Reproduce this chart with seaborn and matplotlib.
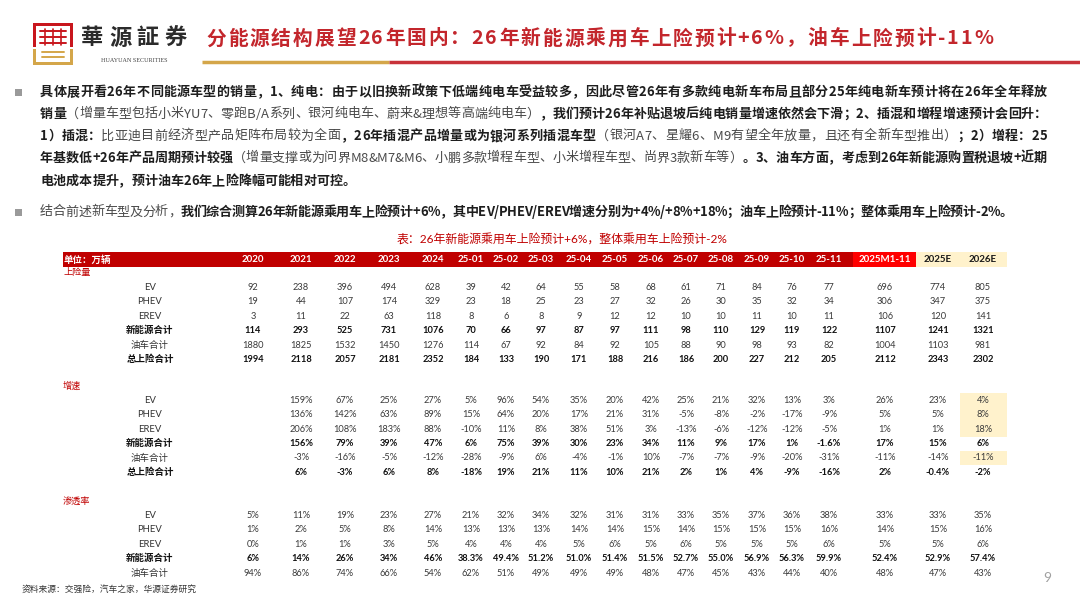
import matplotlib
matplotlib.use("Agg")
import matplotlib.pyplot as plt
import seaborn as sns
from matplotlib.patches import Rectangle
from matplotlib.font_manager import findfont, FontProperties
from matplotlib.ft2font import FT2Font

sns.set_theme(style="white")
CJK = ["Noto Sans CJK SC", "DejaVu Sans"]
NUM = ["Lato", "Noto Sans CJK SC", "DejaVu Sans"]
plt.rcParams["font.family"] = CJK

# ---------------- data ----------------
columns = ["2020", "2021", "2022", "2023", "2024", "25-01", "25-02", "25-03", "25-04",
           "25-05", "25-06", "25-07", "25-08", "25-09", "25-10", "25-11",
           "2025M1-11", "2025E", "2026E"]
row_labels = ["EV", "PHEV", "EREV", "新能源合计", "油车合计", "总上险合计"]
bold_rows = ["新能源合计", "总上险合计"]

# 上险量 (万辆)
ev_vol = [92, 238, 396, 494, 628, 39, 42, 64, 55, 58, 68, 61, 71, 84, 76, 77, 696, 774, 805]
phev_vol = [19, 44, 107, 174, 329, 23, 18, 25, 23, 27, 32, 26, 30, 35, 32, 34, 306, 347, 375]
erev_vol = [3, 11, 22, 63, 118, 8, 6, 8, 9, 12, 12, 10, 10, 11, 10, 11, 106, 120, 141]
nev_vol = [114, 293, 525, 731, 1076, 70, 66, 97, 87, 97, 111, 98, 110, 129, 119, 122, 1107, 1241, 1321]
ice_vol = [1880, 1825, 1532, 1450, 1276, 114, 67, 92, 84, 92, 105, 88, 90, 98, 93, 82, 1004, 1103, 981]
total_vol = [1994, 2118, 2057, 2181, 2352, 184, 133, 190, 171, 188, 216, 186, 200, 227, 212, 205, 2112, 2343, 2302]

# 增速 (%)
ev_yoy = [None, 159, 67, 25, 27, 5, 96, 54, 35, 20, 42, 25, 21, 32, 13, 3, 26, 23, 4]
phev_yoy = [None, 136, 142, 63, 89, 15, 64, 20, 17, 21, 31, -5, -8, -2, -17, -9, 5, 5, 8]
erev_yoy = [None, 206, 108, 183, 88, -10, 11, 8, 38, 51, 3, -13, -6, -12, -12, -5, 1, 1, 18]
nev_yoy = [None, 156, 79, 39, 47, 6, 75, 39, 30, 23, 34, 11, 9, 17, 1, -1.6, 17, 15, 6]
ice_yoy = [None, -3, -16, -5, -12, -28, -9, 6, -4, -1, 10, -7, -7, -9, -20, -31, -11, -14, -11]
total_yoy = [None, 6, -3, 6, 8, -18, 19, 21, 11, 10, 21, 2, 1, 4, -9, -16, 2, -0.4, -2]

# 渗透率 (%)
ev_pen = [5, 11, 19, 23, 27, 21, 32, 34, 32, 31, 31, 33, 35, 37, 36, 38, 33, 33, 35]
phev_pen = [1, 2, 5, 8, 14, 13, 13, 13, 14, 14, 15, 14, 15, 15, 15, 16, 14, 15, 16]
erev_pen = [0, 1, 1, 3, 5, 4, 4, 4, 5, 6, 5, 6, 5, 5, 5, 6, 5, 5, 6]
nev_pen = [6, 14, 26, 34, 46, 38.3, 49.4, 51.2, 51.0, 51.4, 51.5, 52.7, 55.0, 56.9, 56.3, 59.9, 52.4, 52.9, 57.4]
ice_pen = [94, 86, 74, 66, 54, 62, 51, 49, 49, 49, 48, 47, 45, 43, 44, 40, 48, 47, 43]

sections = [
    ("上险量", [ev_vol, phev_vol, erev_vol, nev_vol, ice_vol, total_vol], False),
    ("增速", [ev_yoy, phev_yoy, erev_yoy, nev_yoy, ice_yoy, total_yoy], True),
    ("渗透率", [ev_pen, phev_pen, erev_pen, nev_pen, ice_pen], True),
]
# highlighted cells: (section index, row index, column)
highlights = [(1, 0, "2026E"), (1, 1, "2026E"), (1, 2, "2026E"), (1, 4, "2026E")]

title = "分能源结构展望26年国内：26年新能源乘用车上险预计+6%，油车上险预计-11%"
table_title = "表：26年新能源乘用车上险预计+6%，整体乘用车上险预计-2%"
source = "资料来源：交强险，汽车之家，华源证券研究"

B, R = "bold", "normal"
para1 = [
    [("具体展开看26年不同能源车型的销量，1、纯电：由于以旧换新政策下低端纯电车受益较多，因此尽管26年有多款纯电新车布局且部分25年纯电新车预计将在26年全年释放", B)],
    [("销量", B), ("（增量车型包括小米YU7、零跑B/A系列、银河纯电车、蔚来&理想等高端纯电车）", R),
     ("，我们预计26年补贴退坡后纯电销量增速依然会下滑；2、插混和增程增速预计会回升：", B)],
    [("1）插混：", B), ("比亚迪目前经济型产品矩阵布局较为全面", R), ("，26年插混产品增量或为银河系列插混车型", B),
     ("（银河A7、星耀6、M9有望全年放量，且还有全新车型推出）", R), ("；2）增程：25", B)],
    [("年基数低+26年产品周期预计较强", B), ("（增量支撑或为问界M8&M7&M6、小鹏多款增程车型、小米增程车型、尚界3款新车等）", R),
     ("。3、油车方面，考虑到26年新能源购置税退坡+近期", B)],
    [("电池成本提升，预计油车26年上险降幅可能相对可控。", B)],
]
para2 = [("结合前述新车型及分析，", R),
         ("我们综合测算26年新能源乘用车上险预计+6%，其中EV/PHEV/EREV增速分别为+4%/+8%+18%；油车上险预计-11%；整体乘用车上险预计-2%。", B)]

# ---------------- layout ----------------
RED = "#C00000"
TITLE_RED = "#C3262C"
GOLD = "#D4A64A"
DPI = 100
col_x = [253, 301, 345, 389, 433, 471, 506, 541, 579, 615, 651, 686, 721, 757, 792, 829, 885, 938, 983]
label_x = 150
sec_label_y = [273, 386, 501]
row_step = 14.4

fig = plt.figure(figsize=(10.8, 5.94), dpi=DPI)
ax = fig.add_axes([0, 0, 1, 1])
ax.set_xlim(0, 1080)
ax.set_ylim(594, 0)
ax.axis("off")

_font_cache = {}


def advance(ch, weight, fs):
    if weight not in _font_cache:
        path = findfont(FontProperties(family="Noto Sans CJK SC", weight=weight))
        _font_cache[weight] = FT2Font(path)
    f = _font_cache[weight]
    f.set_size(fs, DPI)
    g = f.load_char(ord(ch))
    return g.linearHoriAdvance / 65536


def draw_runs(x0, y, runs, fs, colors, right=None, track=0.0):
    chars = [(ch, w) for txt, w in runs for ch in txt]
    widths = [advance(ch, w, fs) for ch, w in chars]
    gap = track
    if right is not None:
        gap = (right - x0 - sum(widths)) / (len(chars) - 1)
    x = x0
    for (ch, w), wd in zip(chars, widths):
        ax.text(x, y, ch, fontsize=fs, fontweight=w, color=colors[w],
                ha="left", va="center", family=CJK)
        x += wd + gap


# logo
ax.add_patch(Rectangle((33, 23), 40, 3, color="#C8161D", lw=0))
ax.add_patch(Rectangle((33, 23), 3, 24, color="#C8161D", lw=0))
ax.add_patch(Rectangle((70, 23), 3, 24, color="#C8161D", lw=0))
for yy in (31, 37, 43):
    ax.plot([40, 66], [yy, yy], color="#C8161D", lw=1.4)
for xx in (45, 53, 61):
    ax.plot([xx, xx], [29, 45], color="#C8161D", lw=1.2)
ax.add_patch(Rectangle((33, 49), 3, 16, color=GOLD, lw=0))
ax.add_patch(Rectangle((70, 49), 3, 16, color=GOLD, lw=0))
ax.add_patch(Rectangle((33, 62), 40, 3, color=GOLD, lw=0))
ax.plot([42, 64], [52, 52], color=GOLD, lw=1.4)
ax.plot([42, 64], [57, 57], color=GOLD, lw=1.4)
draw_runs(81, 38, [("華源証券", B)], 16, {B: "#2b2b2b"}, right=187)
ax.text(134, 60, "HUAYUAN SECURITIES", fontsize=4.4, color="#444444",
        ha="center", va="center", family=["Liberation Serif"])

# title + rule
draw_runs(206, 39, [(title, B)], 14.2, {B: TITLE_RED}, right=993)
ax.plot([202, 389], [62, 62], color=GOLD, lw=2.5, solid_capstyle="butt")
ax.plot([389, 1080], [62, 62], color="#C8323A", lw=2.5, solid_capstyle="butt")

# paragraphs
pcol = {B: "#1e1e1e", R: "#4a4a4a"}
para_y = [92, 114, 136, 158, 181]
for i, (runs, yy) in enumerate(zip(para1, para_y)):
    draw_runs(40, yy, runs, 9.4, pcol, right=1047 if i < 4 else None)
draw_runs(40, 212, para2, 9.4, pcol, right=1013)
for yy in (92, 212):
    ax.add_patch(Rectangle((15, yy - 3.5), 7, 7, color="#9a9a9a", lw=0))

# table title
ax.text(562, 240, table_title, fontsize=8.6, color=RED, ha="center", va="center", family=NUM)

# header bar
ax.add_patch(Rectangle((63, 252), 853 - 63, 14.5, color=RED, lw=0))
ax.add_patch(Rectangle((853, 252), 916 - 853, 14.5, color="#FF0000", lw=0))
ax.add_patch(Rectangle((916, 252), 1007 - 916, 14.5, color="#FFF2CC", lw=0))
ax.text(64, 259.5, "单位：万辆", fontsize=6.8, fontweight="bold", color="white",
        ha="left", va="center", family=CJK)
for c, xx in zip(columns, col_x):
    colr = "#1a1a1a" if c.endswith("E") else "white"
    ax.text(xx, 259.5, c, fontsize=7, fontweight="bold", color=colr,
            ha="center", va="center", family=NUM)


def fmt(v, pct):
    if v is None:
        return ""
    if not pct:
        return f"{v}"
    if isinstance(v, float):
        return f"{v:.1f}%"
    return f"{v}%"


cell_w = 47
for si, (name, rows, pct) in enumerate(sections):
    y0 = sec_label_y[si]
    ax.text(63, y0, name, fontsize=6.6, color=RED, ha="left", va="center", family=CJK)
    for ri, vals in enumerate(rows):
        yy = y0 + row_step * (ri + 1)
        lab = row_labels[ri]
        bold = lab in bold_rows
        for (hs, hr, hc) in highlights:
            if hs == si and hr == ri:
                xx = col_x[columns.index(hc)]
                ax.add_patch(Rectangle((xx - 23.5, yy - 7.4), cell_w, row_step + 0.4,
                                       color="#FFF2CC", lw=0, zorder=0))
        ax.text(label_x, yy, lab, fontsize=6.8, fontweight="bold" if bold else "normal",
                color="#111111" if bold else "#333333", ha="center", va="center",
                family=NUM)
        for v, xx in zip(vals, col_x):
            ax.text(xx, yy, fmt(v, pct), fontsize=6.7,
                    fontweight="bold" if bold else "normal",
                    color="#111111" if bold else "#3a3a3a",
                    ha="center", va="center", family=NUM)

ax.text(22, 589, source, fontsize=6.3, color="#333333", ha="left", va="center", family=CJK)
ax.text(1047, 578, "9", fontsize=10, color="#a0a0a0", ha="center", va="center", family=NUM)

fig.savefig("out.png", dpi=DPI)
